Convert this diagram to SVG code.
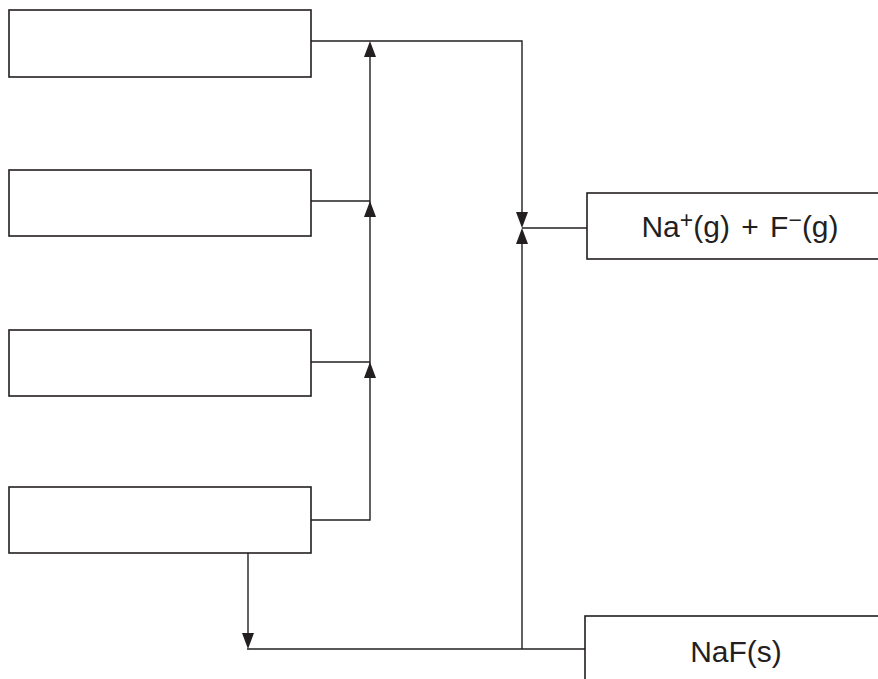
<svg xmlns="http://www.w3.org/2000/svg" width="878" height="679" viewBox="0 0 878 679">
<defs>
<style>
.box{fill:#fff;stroke:#231f20;stroke-width:1.6}
.ln{fill:none;stroke:#231f20;stroke-width:1.4}
.ah{fill:#231f20;stroke:none}
.t{font-family:"Liberation Sans",Arial,sans-serif;font-size:30px;fill:#231f20;text-anchor:middle}
.sup{font-size:23px}
</style>
</defs>
<rect width="878" height="679" fill="#fff"/>
<g id="connectors">
<polyline class="ln" points="311,41 522,41 522,214"/>
<polyline class="ln" points="311,201 370,201"/>
<polyline class="ln" points="311,362 370,362"/>
<polyline class="ln" points="311,520 370,520 370,56"/>
<polyline class="ln" points="248,553 248,634"/>
<polyline class="ln" points="247,649 586,649"/>
<polyline class="ln" points="522,649 522,242"/>
<polyline class="ln" points="522,228 587,228"/>
<path class="ah" d="M370,41 L364,57 L376,57 Z"/>
<path class="ah" d="M370,201 L364,217 L376,217 Z"/>
<path class="ah" d="M370,362 L364,378 L376,378 Z"/>
<path class="ah" d="M522,228 L516,212 L528,212 Z"/>
<path class="ah" d="M522,228 L516,244 L528,244 Z"/>
<path class="ah" d="M248,649 L242,633 L254,633 Z"/>
</g>
<g id="box1"><rect class="box" x="9" y="10" width="302" height="67"/></g>
<g id="box2"><rect class="box" x="9" y="170" width="302" height="66"/></g>
<g id="box3"><rect class="box" x="9" y="330" width="302" height="66"/></g>
<g id="box4"><rect class="box" x="9" y="487" width="302" height="66"/></g>
<g id="ions"><rect class="box" x="587" y="193" width="300" height="66"/>
<text class="t" x="740" y="237" word-spacing="3">Na<tspan class="sup" dy="-9">+</tspan><tspan dy="9">(g) + F</tspan><tspan class="sup" dy="-9">−</tspan><tspan dy="9">(g)</tspan></text></g>
<g id="naf"><rect class="box" x="585" y="616" width="300" height="80"/>
<text class="t" x="736" y="662">NaF(s)</text></g>
</svg>
